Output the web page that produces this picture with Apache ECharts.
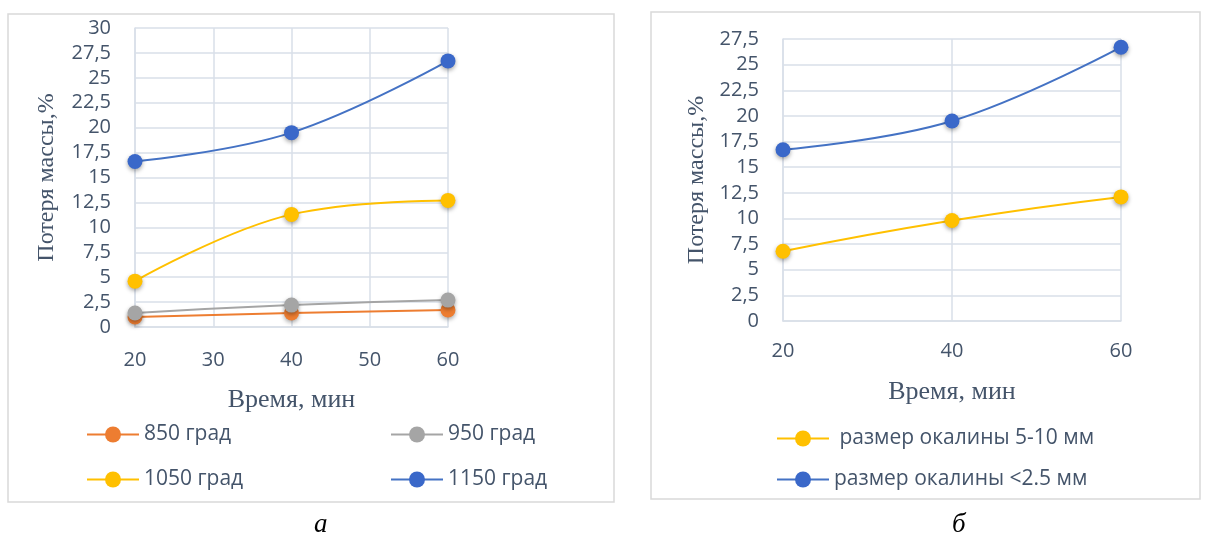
<!DOCTYPE html>
<html>
<head>
<meta charset="utf-8">
<script src="https://cdn.jsdelivr.net/npm/echarts@6/dist/echarts.min.js"></script>
<style>
html,body{margin:0;padding:0;background:#fff;}
#chart{width:1208px;height:541px;}
</style>
</head>
<body>
<div id="chart"></div>
<script>
// данные
const timeA = [20, 40, 60];
const t850 = [1.0, 1.4, 1.7];
const t950 = [1.4, 2.2, 2.7];
const t1050 = [4.6, 11.3, 12.7];
const t1150 = [16.6, 19.5, 26.7];

const timeB = [20, 40, 60];
const size5_10 = [6.8, 9.8, 12.1];
const size25 = [16.7, 19.5, 26.7];

const txt = '#44546a';
const gridCol = '#d9dfe8';

let pairs = (xs, ys) => xs.map((x, i) => [x, ys[i]]);

let myChart = echarts.init(document.getElementById('chart'));

let yAxisCommon = {
    type: 'value',
    interval: 2.5,
    min: 0,
    nameLocation: 'middle',
    nameRotate: 90,
    nameTextStyle: {color: txt, fontFamily: 'Liberation Serif', fontSize: 24},
    axisLine: {show: true, lineStyle: {color: gridCol, width: 1.5}},
    axisTick: {show: false},
    axisLabel: {
        color: txt, fontFamily: 'Open Sans', fontSize: 20, margin: 24,
        formatter: v => String(v).replace('.', ',')
    },
    splitLine: {lineStyle: {color: gridCol, width: 1.5}}
};

let xAxisCommon = {
    type: 'value',
    min: 20,
    max: 60,
    nameLocation: 'middle',
    nameTextStyle: {color: txt, fontFamily: 'Liberation Serif', fontSize: 26},
    axisLine: {show: true, lineStyle: {color: gridCol, width: 1.5}},
    axisTick: {show: false},
    axisLabel: {color: txt, fontFamily: 'Open Sans', fontSize: 20},
    splitLine: {lineStyle: {color: gridCol, width: 1.5}}
};

let mark = {
    symbol: 'circle',
    symbolSize: 15,
    lineStyle: {width: 2},
    emphasis: {disabled: true}
};
let shadow = {shadowBlur: 4, shadowColor: 'rgba(0,0,0,0.35)', shadowOffsetY: 2};

let legendItem = (name, left, top) => ({
    data: [name],
    left: left,
    top: top,
    padding: 0,
    itemWidth: 52,
    itemHeight: 20,
    textStyle: {color: txt, fontFamily: 'Open Sans', fontSize: 21}
});

let option = {
    animation: false,
    color: ['#ed7d31', '#a5a5a5', '#ffc000', '#4472c4', '#ffc000', '#4472c4'],
    graphic: [
        {type: 'rect', shape: {x: 8, y: 14, width: 606, height: 488},
            style: {fill: 'none', stroke: '#d9d9d9', lineWidth: 1.5}, silent: true},
        {type: 'rect', shape: {x: 651, y: 12, width: 549, height: 487},
            style: {fill: 'none', stroke: '#d9d9d9', lineWidth: 1.5}, silent: true},
        {type: 'text', left: 314, top: 511,
            style: {text: 'а', fill: '#000', font: 'italic 27px "Liberation Serif"'}},
        {type: 'text', left: 952, top: 511,
            style: {text: 'б', fill: '#000', font: 'italic 27px "Liberation Serif"'}}
    ],
    grid: [
        {left: 135, top: 28, width: 313, height: 299},
        {left: 783, top: 39, width: 338, height: 282}
    ],
    xAxis: [
        Object.assign({}, xAxisCommon, {gridIndex: 0, interval: 10, name: 'Время, мин', nameGap: 60,
            axisLabel: Object.assign({}, xAxisCommon.axisLabel, {margin: 23})}),
        Object.assign({}, xAxisCommon, {gridIndex: 1, interval: 20, name: 'Время, мин', nameGap: 58,
            axisLabel: Object.assign({}, xAxisCommon.axisLabel, {margin: 20})})
    ],
    yAxis: [
        Object.assign({}, yAxisCommon, {gridIndex: 0, max: 30, name: 'Потеря массы,%', nameGap: 76}),
        Object.assign({}, yAxisCommon, {gridIndex: 1, max: 27.5, name: 'Потеря массы,%', nameGap: 74})
    ],
    legend: [
        legendItem('850 град', 86, 424),
        legendItem('950 град', 390, 424),
        legendItem('1050 град', 86, 469),
        legendItem('1150 град', 390, 469),
        legendItem(' размер окалины 5-10 мм', 776, 428),
        legendItem('размер окалины <2.5 мм', 776, 469)
    ],
    series: [
        Object.assign({}, mark, {name: '850 град', type: 'line', xAxisIndex: 0, yAxisIndex: 0,
            smooth: true, data: pairs(timeA, t850), itemStyle: Object.assign({color: '#ed7d31'}, shadow)}),
        Object.assign({}, mark, {name: '950 град', type: 'line', xAxisIndex: 0, yAxisIndex: 0,
            smooth: true, data: pairs(timeA, t950), itemStyle: Object.assign({color: '#a5a5a5'}, shadow)}),
        Object.assign({}, mark, {name: '1050 град', type: 'line', xAxisIndex: 0, yAxisIndex: 0,
            smooth: 0.4, data: pairs(timeA, t1050), itemStyle: Object.assign({color: '#ffc000'}, shadow)}),
        Object.assign({}, mark, {name: '1150 град', type: 'line', xAxisIndex: 0, yAxisIndex: 0,
            smooth: 0.4, data: pairs(timeA, t1150), itemStyle: Object.assign({color: '#3a68c9'}, shadow),
            lineStyle: {width: 2, color: '#4472c4'}}),
        Object.assign({}, mark, {name: ' размер окалины 5-10 мм', type: 'line', xAxisIndex: 1, yAxisIndex: 1,
            smooth: true, data: pairs(timeB, size5_10), itemStyle: Object.assign({color: '#ffc000'}, shadow)}),
        Object.assign({}, mark, {name: 'размер окалины <2.5 мм', type: 'line', xAxisIndex: 1, yAxisIndex: 1,
            smooth: 0.4, data: pairs(timeB, size25), itemStyle: Object.assign({color: '#3a68c9'}, shadow),
            lineStyle: {width: 2, color: '#4472c4'}})
    ]
};

myChart.setOption(option);
window.onresize = function () {
    myChart.resize();
};
</script>
</body>
</html>
